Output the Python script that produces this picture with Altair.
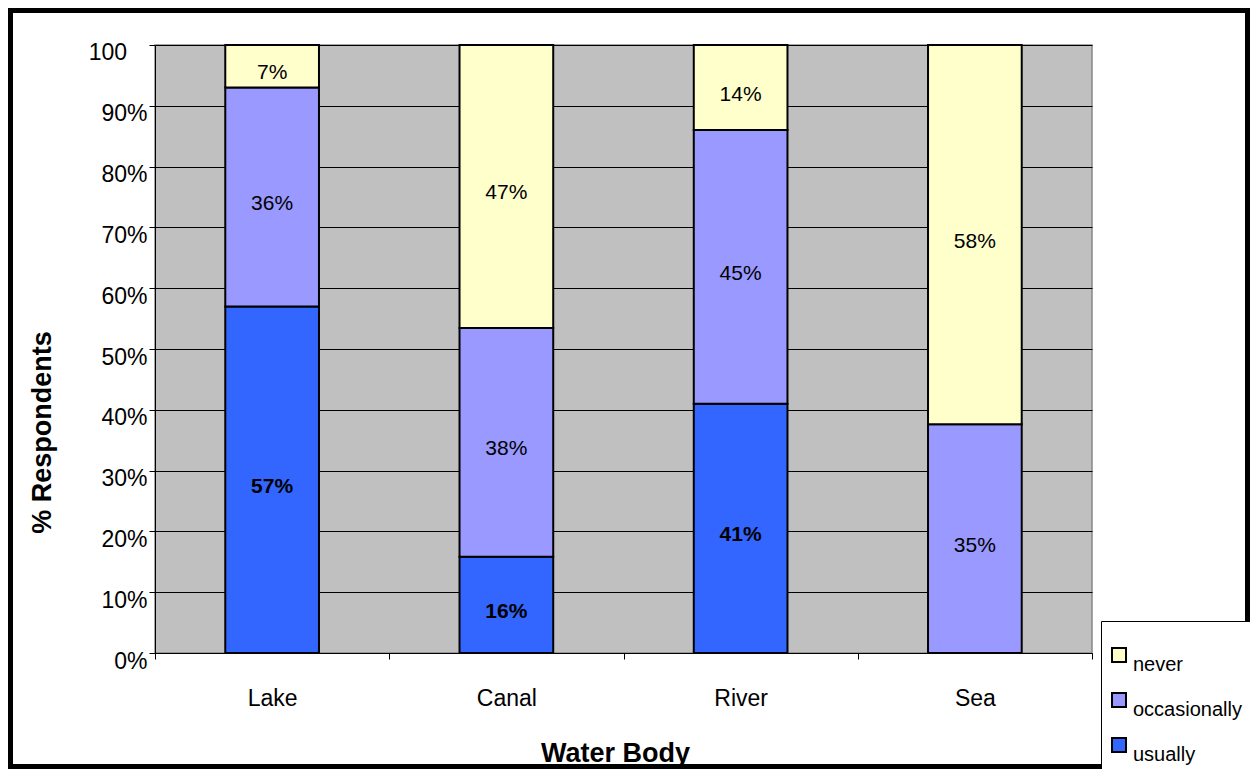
import altair as alt
import pandas as pd

# ---- data ----
bodies = ["Lake", "Canal", "River", "Sea"]
responses = ["never", "occasionally", "usually"]
usually = [57, 16, 41, 0]
occasionally = [36, 38, 45, 35]
never = [7, 47, 14, 58]
colors = ["#FFFFCC", "#9999FF", "#3366FF"]
y_tick_values = [0, 0.1, 0.2, 0.3, 0.4, 0.5, 0.6, 0.7, 0.8, 0.9, 1.0]
top_tick = [{"v": 1.0, "t": "100"}]

rows = []
for i, b in enumerate(bodies):
    for resp, vals, order in (("usually", usually, 0),
                              ("occasionally", occasionally, 1),
                              ("never", never, 2)):
        rows.append({"body": b, "response": resp, "value": vals[i], "order": order})
df = pd.DataFrame(rows)

FONT = "Liberation Sans"

x_axis = alt.Axis(
    title="Water Body", labelAngle=0, tickBand="extent", labelFont=FONT,
    labelFontSize=23, labelColor="black", labelPadding=28, tickSize=6,
    tickColor="black", domainColor="black", titleFont=FONT, titleFontSize=27,
    titleFontWeight="bold", titleColor="black", titleX=460, titleY=108,
    titleBaseline="alphabetic", titleAlign="center", grid=False,
)
y_axis = alt.Axis(
    title="% Respondents", values=y_tick_values,
    labelExpr="datum.value >= 1 ? '' : format(datum.value, '.0%')",
    labelFont=FONT, labelFontSize=23, labelColor="black", labelPadding=2,
    labelBaseline="middle", labelOffset=8, tickSize=6, tickColor="black",
    domainColor="black", grid=True, gridColor="black", gridWidth=1,
    gridOpacity=1, titleFont=FONT, titleFontSize=27, titleFontWeight="bold",
    titleColor="black", titleX=-113, titleY=387, titleBaseline="middle",
    titleAlign="center", titleAngle=270,
)
x_enc = alt.X("body:N", sort=bodies,
              scale=alt.Scale(paddingInner=0, paddingOuter=0), axis=x_axis)
y_scale = alt.Scale(domain=[0, 1], nice=False)

base = (
    alt.Chart(df)
    .transform_filter("datum.value > 0")
    .transform_stack(stack="value", groupby=["body"], as_=["v0", "v1"],
                     offset="normalize", sort=[alt.SortField("order", order="ascending")])
    .transform_calculate(mid="(datum.v0 + datum.v1) / 2", label="datum.value + '%'")
)

bars = base.mark_bar(width=alt.RelativeBandSize(0.4), stroke="black",
                     strokeWidth=2, opacity=1).encode(
    x=x_enc,
    y=alt.Y("v0:Q", scale=y_scale, axis=y_axis),
    y2="v1:Q",
    color=alt.Color(
        "response:N",
        scale=alt.Scale(domain=responses, range=colors),
        legend=alt.Legend(
            title=" ", titleFontSize=12, titlePadding=4, orient="none",
            legendX=946, legendY=576, strokeColor="black", fillColor="white",
            padding=8, symbolType="square", symbolSize=196,
            symbolStrokeColor="black", symbolStrokeWidth=2, symbolOpacity=1,
            labelFont=FONT, labelFontSize=20, labelColor="black",
            labelBaseline="top", labelOffset=4, rowPadding=14, cornerRadius=0,
        ),
    ),
)

labels_plain = base.transform_filter("datum.response != 'usually'").mark_text(
    font=FONT, fontSize=21, color="black", baseline="middle", dy=7
).encode(x=x_enc, y=alt.Y("mid:Q", scale=y_scale, axis=y_axis), text="label:N")

labels_bold = base.transform_filter("datum.response == 'usually'").mark_text(
    font=FONT, fontSize=21, fontWeight="bold", color="black", baseline="middle", dy=7
).encode(x=x_enc, y=alt.Y("mid:Q", scale=y_scale, axis=y_axis), text="label:N")

# top tick label "100" (shown without % in the reference, right edge shifted left)
top_label = alt.Chart(pd.DataFrame(top_tick)).mark_text(
    font=FONT, fontSize=23, color="black", align="right", baseline="middle",
    dy=8, clip=False
).encode(x=alt.value(-28), y=alt.Y("v:Q", scale=y_scale, axis=y_axis), text="t:N")

frame = alt.Chart(pd.DataFrame({"f": [0]})).mark_rect(
    fill="transparent", stroke="black", strokeWidth=5, clip=False
).encode(x=alt.value(-144.5), x2=alt.value(1092.5),
         y=alt.value(-34.5), y2=alt.value(721.5))

chart = (
    alt.layer(bars, labels_plain, labels_bold, top_label, frame)
    .properties(width=937, height=608, autosize=alt.AutoSizeParams(type="none"),
                padding={"left": 147, "top": 37, "right": 158, "bottom": 116},
                background="white")
    .configure_view(fill="#C0C0C0", stroke="#888888", strokeWidth=1.5)
)

chart.save("out.html", embed_options={"renderer": "svg", "actions": False})
